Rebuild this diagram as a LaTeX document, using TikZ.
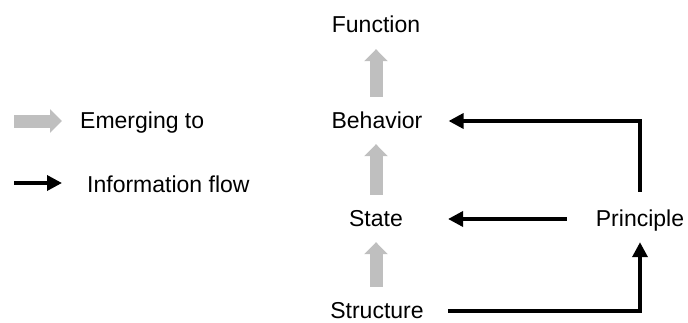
\documentclass[tikz,border=0pt]{standalone}
\usepackage{fontspec}
\setmainfont{Liberation Sans}
\usepackage{xcolor}
\usepackage{tikz}
\usetikzlibrary{arrows.meta,positioning}
\definecolor{corcinza}{RGB}{191,191,191}
\definecolor{corpreto}{RGB}{0,0,0}

\begin{document}
\begin{tikzpicture}[
  x=1pt, y=1pt,
  rotulo/.style={inner sep=0pt, text height=18pt, text depth=4pt,
                 font=\fontsize{23}{27}\selectfont},
  emerge/.style={-{Triangle[width=23pt,length=12pt]}, line width=13pt,
                 color=corcinza, shorten <=13pt, shorten >=12pt},
  fluxo/.style={-{Triangle[width=15pt,length=15pt]}, line width=3.5pt,
                color=corpreto}
]
  \useasboundingbox (0,0) rectangle (688,322);

  \node[rotulo, anchor=base] (function) at (376,289) {Function};
  \node[rotulo, anchor=base] (behavior) at (377,194) {Behavior};
  \node[rotulo, anchor=base] (state) at (376,96) {State};
  \node[rotulo, anchor=base] (structure) at (377,4) {Structure};
  \node[rotulo, anchor=base] (principle) at (640,96) {Principle};

  \node[rotulo, anchor=base west] (legemerge) at (80,194) {Emerging to};
  \node[rotulo, anchor=base west] (leginfo) at (87,130) {Information flow};
  \coordinate (lgemerge) at (14,201);
  \coordinate (lginfo) at (14,139);

  \draw[emerge] (behavior.north -| state) -- (function);
  \draw[emerge] (state) -- (behavior.south -| state);
  \draw[emerge] (structure.north -| state) -- (state);

  \draw[fluxo, shorten <=16pt, shorten >=26pt] (principle.north) |- (behavior.east);
  \draw[fluxo, shorten <=29pt, shorten >=45pt] (principle.west) -- (state.east);
  \draw[fluxo, shorten <=24pt, shorten >=12pt] (structure.east) -| (principle.south);

  \draw[emerge, shorten <=0pt, shorten >=18pt] (lgemerge) -- (legemerge.west);
  \draw[fluxo, shorten >=25pt] (lginfo) -- (lginfo -| leginfo.west);
\end{tikzpicture}
\end{document}
